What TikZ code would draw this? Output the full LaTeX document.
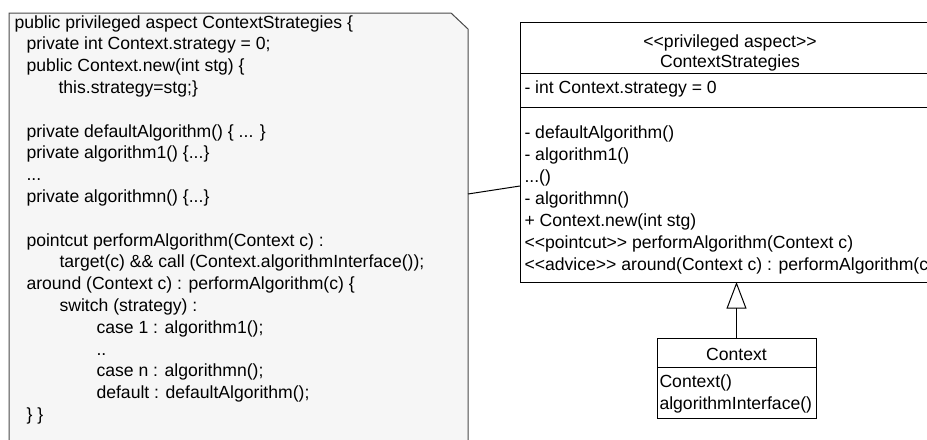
\documentclass[tikz,border=0pt]{standalone}
\usepackage{fontspec}
\setmainfont{Liberation Sans}
\usepackage{tikz}
\usetikzlibrary{arrows.meta,positioning}
\definecolor{noteFill}{HTML}{F6F6F6}
\definecolor{noteLine}{HTML}{4A4A4A}
\newcommand{\stLeft}{<\kern0pt<}
\newcommand{\stRight}{>\kern0pt>}
\newcommand{\codeDots}{...}
\tikzset{
  umlText/.style={font=\fontsize{13.2}{16.5}\selectfont, inner sep=0pt},
  umlBox/.style={draw=black, line width=0.75pt, inner sep=0pt, outer sep=0pt},
}

\begin{document}
\begin{tikzpicture}[x=0.75pt, y=-0.75pt, line width=0.75pt]
    \useasboundingbox (0,0) rectangle (927,439);
    \clip (0,0) rectangle (927,439);

    % Note with the aspect code
    \filldraw[fill=noteFill, draw=noteLine] (9,13) -- (451,13) -- (468,29) -- (468,470) -- (9,470) -- cycle;
    \foreach \dx/\ln [count=\i from 0] in {
        14/public privileged aspect ContextStrategies \{,
        26/private int Context.strategy = 0;,
        26/public Context.new(int stg) \{,
        58/this.strategy=stg;\},
        26/{},
        26/private defaultAlgorithm() \{ \codeDots{} \},
        26/private algorithm1() \{\codeDots\},
        26/\codeDots,
        26/private algorithmn() \{\codeDots\},
        26/{},
        26/pointcut performAlgorithm(Context c) :,
        59/target(c) \&\& call (Context.algorithmInterface());,
        26/around (Context c) : performAlgorithm(c) \{,
        59/switch (strategy) :,
        96/case 1 : algorithm1();,
        96/..,
        96/case n : algorithmn();,
        96/default : defaultAlgorithm();,
        26/\} \}}
      \node[umlText, anchor=base west] (code\i) at (\dx, 28+21.8*\i) {\ln};

    % Aspect class
    \node[umlBox, minimum width=315pt, minimum height=195pt, anchor=north west] (aspect) at (520,22) {};
    \draw (520,73) -- (940,73);
    \draw (520,107) -- (940,107);
    \node[umlText, anchor=base] (stereo) at (730,47) {\stLeft privileged aspect\stRight};
    \node[umlText, anchor=base] (aspectName) at (730,67) {ContextStrategies};
    \node[umlText, anchor=base west] (attr) at (524,93) {- int Context.strategy = 0};
    \foreach \op [count=\i from 0] in {
        - defaultAlgorithm(),
        - algorithm1(),
        \codeDots(),
        - algorithmn(),
        + Context.new(int stg),
        \stLeft pointcut\stRight{} performAlgorithm(Context c),
        \stLeft advice\stRight{} around(Context c) : performAlgorithm(c)}
      \node[umlText, anchor=base west] (op\i) at (524, 138+22*\i) {\op};

    % Context class
    \node[umlBox, minimum width=119.25pt, minimum height=60pt, anchor=north west] (ctx) at (657,338) {};
    \draw (657,367) -- (816,367);
    \node[umlText, anchor=base] (ctxName) at (736.5,360) {Context};
    \node[umlText, anchor=base west] (ctxOpA) at (659,387) {Context()};
    \node[umlText, anchor=base west] (ctxOpB) at (659,409) {algorithmInterface()};

    % Connectors
    \coordinate (noteTip) at (468,194);
    \draw (noteTip) -- ([yshift=-25.5pt]aspect.west);
    \draw[-{Triangle[open, length=20pt, width=15pt]}] (ctx.north) -- (ctx.north |- aspect.south);
\end{tikzpicture}
\end{document}
